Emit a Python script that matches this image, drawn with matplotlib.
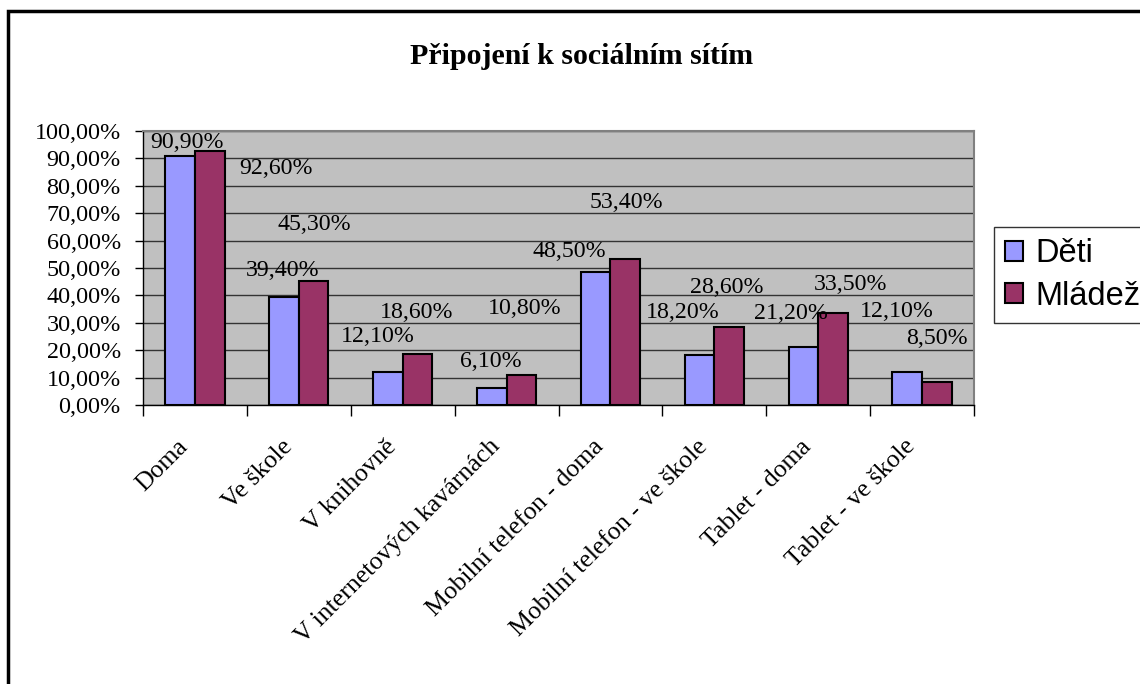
import matplotlib
matplotlib.use("Agg")
import matplotlib.pyplot as plt
from matplotlib.patches import Rectangle
from matplotlib.transforms import ScaledTranslation
import numpy as np

categories = ["Doma", "Ve škole", "V knihovně", "V internetových kavárnách",
              "Mobilní telefon - doma", "Mobilní telefon - ve škole",
              "Tablet - doma", "Tablet - ve škole"]
deti = [90.9, 39.4, 12.1, 6.1, 48.5, 18.2, 21.2, 12.1]
mladez = [92.6, 45.3, 18.6, 10.8, 53.4, 28.6, 33.5, 8.5]
series_names = ["Děti", "Mládež"]
yticks = [0, 10, 20, 30, 40, 50, 60, 70, 80, 90, 100]
title = "Připojení k sociálním sítím"

# label offsets in pixels (dx, dy up) relative to bar top centre - Excel-like placement
deti_off = [(6.6, 13.6), (-1.3, 26.3), (-10.5, 35.1), (-1.2, 26.6),
            (-25.8, 20.4), (-16.7, 42.4), (-12.6, 33.2), (-10.5, 60.5)]
mladez_off = [(66.1, -17), (0.7, 56.2), (-0.7, 41.3), (3.4, 67.1),
              (1.2, 56.4), (-2.4, 39.3), (17.2, 29.2), (-0.2, 43.7)]

serif = ["Liberation Serif", "DejaVu Serif"]
sans = ["Liberation Sans", "DejaVu Sans"]

fig = plt.figure(figsize=(11.4, 6.84), dpi=100)
fig.patch.set_facecolor("white")
W, H = 1140, 684
ax = fig.add_axes([143 / W, 1 - 405 / H, (974 - 143) / W, (405 - 131) / H])
ax.set_facecolor("#C0C0C0")

x = np.arange(len(categories))
bw = 1 / 3.5
b1 = ax.bar(x - bw / 2, deti, bw, color="#9999FF", edgecolor="black", linewidth=1.5,
            label=series_names[0], zorder=3)
b2 = ax.bar(x + bw / 2, mladez, bw, color="#993366", edgecolor="black", linewidth=1.5,
            label=series_names[1], zorder=3)

def fmt(v):
    return f"{v:.2f}".replace(".", ",") + "%"

for bars, vals, offs in ((b1, deti, deti_off), (b2, mladez, mladez_off)):
    for rect, v, (dx, dy) in zip(bars, vals, offs):
        ax.annotate(fmt(v), (rect.get_x() + rect.get_width() / 2, v),
                    xytext=(dx, dy), textcoords="offset pixels",
                    ha="center", va="center", fontsize=17.2, family=serif,
                    zorder=5, annotation_clip=False)

ax.set_xlim(-0.5, len(categories) - 0.5)
ax.set_ylim(0, 100)
ax.set_yticks(yticks)
ax.set_yticklabels([fmt(v) for v in yticks], family=serif, fontsize=17.4)
ax.yaxis.grid(True, color="#333333", linewidth=1, zorder=1)
ax.set_axisbelow(True)

# x ticks at category boundaries; labels at centres
ax.set_xticks(np.arange(-0.5, len(categories), 1.0))
ax.set_xticklabels([])
ax.set_xticks(x, minor=True)
ax.set_xticklabels(categories, minor=True, rotation=45, ha="right", va="top",
                   rotation_mode="anchor", family=serif, fontsize=18.5)
ax.tick_params(axis="x", which="major", length=8, width=1, direction="out")
ax.tick_params(axis="x", which="minor", length=0, pad=22)
ax.tick_params(axis="y", length=6, width=1, direction="out", pad=10)
shift = ScaledTranslation(-18 / 100, 0, fig.dpi_scale_trans)
for lab in ax.get_xticklabels(minor=True):
    lab.set_transform(lab.get_transform() + shift)

for s in ("top", "right"):
    ax.spines[s].set_color("#808080")
    ax.spines[s].set_linewidth(1.5)
for s in ("left", "bottom"):
    ax.spines[s].set_color("black")
    ax.spines[s].set_linewidth(1)

fig.text(582 / W, 1 - 57 / H, title, ha="center", va="center", fontsize=21.5,
         fontweight="bold", family=serif)

leg = fig.legend(handles=[b1, b2], labels=series_names, loc="upper left",
                 bbox_to_anchor=(994 / W, 1 - 227 / H), prop={"family": sans, "size": 23.5},
                 frameon=True, fancybox=False, edgecolor="black", borderpad=0.35,
                 handlelength=0.55, handleheight=0.55, handletextpad=0.37, labelspacing=0.35,
                 borderaxespad=0)
leg.get_frame().set_linewidth(1)

# outer chart border
fig.patches.append(Rectangle((8 / W, -0.1), 1.2, 1 - 11 / H + 0.1, transform=fig.transFigure,
                             fill=False, edgecolor="black", linewidth=2.5))

fig.savefig("out.png", dpi=100)
